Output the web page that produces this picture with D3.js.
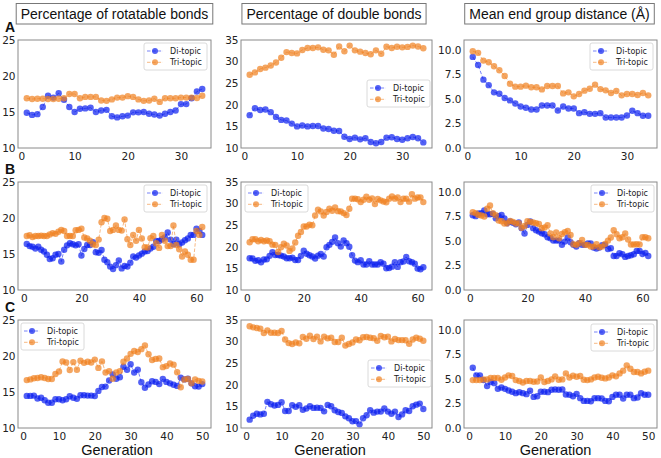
<!DOCTYPE html>
<html><head><meta charset="utf-8">
<script src="https://cdn.jsdelivr.net/npm/d3@7"></script>
<style>body{margin:0;background:#fff}</style>
</head><body><svg id="chart" width="661" height="458"></svg>
<script>
// ---- data ----
const columnTitles = ["Percentage of rotatable bonds", "Percentage of double bonds", "Mean end group distance (Å)"];
const rowLabels = ["A", "B", "C"];
const seriesNames = ["Di-topic", "Tri-topic"];
const xTicksA = [0, 10, 20, 30];
const xTicksB = [0, 20, 40, 60];
const xTicksC = [0, 10, 20, 30, 40, 50];
const yTicksRot = [10, 15, 20, 25];
const yTicksDbl = [10, 15, 20, 25, 30, 35];
const yTicksDist = [0, 2.5, 5, 7.5, 10];

const rotA_di = [14.9,14.6,14.7,15.7,17.25,17.0,17.6,16.7,15.7,15.0,15.45,15.5,15.6,15.0,15.2,15.3,14.4,14.25,14.4,14.5,14.95,14.95,15.0,14.75,14.65,14.5,14.75,15.0,15.2,16.1,16.1,16.9,17.85,18.2];
const rotA_tri = [16.9,16.8,16.85,16.85,16.8,16.8,16.85,16.9,17.5,17.5,16.9,17.1,17.1,17.1,16.6,16.55,16.75,17.0,17.0,17.2,17.1,16.75,16.55,16.6,16.85,16.4,16.9,16.9,16.9,17.0,17.0,17.0,16.95,17.25];
const dblA_di = [17.6,19.2,18.8,18.9,18.3,17.2,16.5,16.35,15.65,15.0,15.2,15.0,15.1,15.1,14.5,14.4,14.0,13.95,12.6,12.1,12.4,12.0,12.25,11.4,11.1,11.4,12.4,12.5,12.1,11.9,12.25,12.55,12.25,11.3];
const dblA_tri = [26.95,27.5,28.3,28.6,29.1,29.8,30.9,32.2,32.0,31.9,32.7,33.15,33.15,33.3,32.75,32.6,31.6,33.5,32.4,33.7,32.6,32.3,32.0,31.7,32.6,31.8,33.45,33.15,33.45,33.3,33.4,33.7,33.5,33.1];
const distA_di = [9.28,8.46,6.96,6.4,5.67,5.53,5.09,4.85,4.54,4.23,4.1,3.92,3.92,4.33,4.33,4.33,3.82,4.23,4.03,4.03,3.55,3.65,3.48,3.48,3.55,3.1,3.1,3.1,3.1,3.31,3.79,3.55,3.28,3.28];
const distA_tri = [9.86,9.69,8.9,8.74,8.33,7.92,7.34,6.55,6.25,6.25,6.35,6.18,6.18,5.97,6.31,6.31,6.31,5.56,5.67,5.26,5.5,5.84,6.04,6.45,6.0,5.87,5.6,5.8,5.36,5.5,5.5,5.4,5.6,5.36];

const rotB_di = [16.4,16.1,16.0,15.75,16.0,15.6,15.35,14.9,14.3,14.4,14.9,15.0,13.95,15.6,16.2,16.5,16.35,16.2,16.35,14.8,15.7,16.25,16.25,16.65,15.25,15.15,15.55,14.2,13.85,13.25,12.9,13.45,14.1,13.0,13.35,13.25,13.8,14.65,14.5,14.8,15.05,15.35,15.4,15.75,16.0,16.8,16.8,17.05,17.3,18.0,17.0,16.35,17.0,16.35,16.6,16.9,17.15,17.65,17.65,18.5,18.2,17.65];
const rotB_tri = [17.5,17.6,17.35,17.5,17.5,17.55,17.5,17.5,17.7,17.9,17.8,18.1,18.35,18.2,17.5,17.5,17.5,18.3,18.35,18.5,17.3,17.15,16.85,16.35,16.25,17.0,19.4,20.0,19.9,18.2,18.35,18.95,18.35,18.25,19.8,17.05,16.25,17.65,16.85,18.35,17.15,15.95,15.9,17.2,17.5,16.5,15.85,17.65,16.85,16.1,16.1,18.95,16.25,15.65,14.65,15.35,14.9,14.2,14.2,18.2,17.65,18.75];
const dblB_di = [17.35,17.3,16.75,16.9,16.4,17.05,17.1,17.9,18.75,18.1,18.1,17.95,17.75,17.35,17.35,17.5,16.95,16.95,17.9,19.1,18.4,18.05,17.75,17.3,17.95,18.35,17.75,19.9,20.45,21.15,22.15,20.85,20.05,21.45,20.85,20.0,18.05,16.8,16.45,16.9,15.9,15.9,16.65,15.9,15.9,15.9,16.45,16.1,15.05,15.1,15.4,16.45,15.35,16.45,16.6,17.65,16.65,16.45,16.1,14.95,14.8,15.25];
const dblB_tri = [21.05,21.75,21.75,21.3,21.6,21.3,21.45,21.3,20.5,20.45,18.8,19.9,20.7,20.3,19.05,19.6,21.0,22.55,23.45,24.7,24.7,25.1,25.0,27.25,28.6,28.2,27.25,28.05,28.8,28.35,29.1,28.25,28.2,27.8,27.35,28.8,31.15,31.15,31.0,30.35,30.9,31.6,30.9,31.2,29.9,31.05,30.75,30.5,30.3,31.15,31.65,31.15,31.4,30.35,31.15,31.15,30.45,32.15,31.15,31.4,31.45,30.35];
const distB_di = [7.62,7.52,7.79,7.82,8.1,7.72,7.72,7.75,7.31,7.52,7.65,7.28,6.8,6.97,6.84,6.7,6.87,6.3,5.75,6.63,6.97,6.3,6.09,5.95,5.78,5.68,5.37,5.27,5.03,5.03,5.03,4.6,4.93,5.34,4.86,4.6,4.42,4.76,4.6,4.6,4.73,4.73,4.32,4.22,4.32,4.56,4.6,4.18,4.25,3.47,3.47,3.74,3.64,3.37,3.47,3.54,3.64,3.98,3.98,3.67,3.78,3.47];
const distB_tri = [7.93,7.82,7.65,7.59,7.48,8.27,8.6,7.82,7.62,7.07,7.0,6.77,6.8,7.04,6.94,6.77,6.8,6.33,6.53,7.0,6.94,6.87,6.8,6.73,6.3,6.36,6.6,5.75,5.37,5.85,5.27,5.71,5.88,6.02,5.61,4.66,4.6,4.76,5.1,4.6,4.6,4.42,4.42,4.66,4.35,4.42,4.69,5.03,5.34,6.09,5.68,5.27,5.37,5.75,5.14,4.63,4.63,4.66,4.63,5.37,5.37,5.27];

const rotC_di = [14.46,14.46,14.5,14.1,14.2,13.85,13.5,13.5,14.0,14.0,13.85,14.0,14.4,14.2,14.05,14.55,14.55,14.5,14.5,14.45,15.15,15.7,15.75,16.6,17.45,16.85,17.05,18.5,18.1,18.85,17.7,18.1,16.35,15.6,16.05,16.5,16.4,16.1,16.8,16.4,16.2,16.0,15.85,17.0,16.75,16.85,16.2,15.8,15.75,16.1];
const rotC_tri = [16.65,16.75,16.9,16.95,17.05,16.95,16.8,16.8,17.5,17.85,19.25,19.1,18.05,19.15,18.1,19.35,19.05,19.2,19.1,19.5,18.35,19.25,17.7,17.9,16.85,17.7,17.9,19.2,19.65,20.3,20.7,20.55,20.95,21.45,20.25,19.45,19.6,19.65,18.45,18.6,18.95,18.8,17.75,15.65,16.75,16.8,16.2,16.75,16.55,16.45];
const dblC_di = [11.93,12.85,13.3,13.15,13.3,16.05,15.5,15.2,15.35,15.95,13.95,13.95,15.25,14.9,15.25,14.2,14.5,15.05,14.65,14.7,14.65,13.85,15.35,15.05,14.1,13.7,13.5,12.7,12.25,11.55,11.6,10.85,12.25,12.95,14.1,13.55,13.8,13.8,14.5,13.8,13.3,13.8,12.55,13.15,14.1,13.95,15.05,15.4,15.65,14.4];
const dblC_tri = [33.55,33.3,33.15,33.0,32.0,32.6,32.05,32.05,32.0,32.45,30.5,29.65,29.45,29.8,29.6,31.05,30.65,31.35,30.6,31.15,30.05,31.15,30.75,30.9,29.9,29.9,30.9,29.1,29.45,29.8,30.5,30.3,31.0,31.05,30.9,30.8,30.2,31.3,31.0,31.15,30.05,30.6,30.35,30.35,30.3,29.5,30.5,30.9,30.65,30.2];
const distC_di = [6.14,5.36,5.36,4.88,4.27,4.68,4.57,3.99,4.13,3.99,3.82,3.69,3.55,3.65,3.55,3.45,3.79,3.17,3.24,3.69,3.69,3.65,3.89,3.92,3.89,3.92,3.41,3.38,3.24,3.48,3.04,2.76,2.76,2.73,3.04,3.04,3.0,2.76,2.73,3.17,3.38,3.38,3.0,3.38,3.38,3.04,3.1,3.55,3.38,3.38];
const distC_tri = [4.88,4.88,4.88,4.95,4.95,5.09,5.09,5.09,4.91,5.15,5.36,5.29,4.88,4.78,4.64,4.78,4.78,4.71,4.74,5.15,4.68,4.78,4.95,5.26,4.91,4.95,5.56,5.15,5.32,5.22,5.29,4.91,4.88,4.95,5.15,5.22,5.12,5.05,5.15,5.36,5.26,5.56,5.84,6.38,6.04,5.7,5.7,5.56,5.73,5.84];

// ---- layout ----
const svg = d3.select("#chart");
const colX = [[18, 211], [241, 432], [464, 657]];
const rowY = [[40, 148], [182, 290], [320, 428]];
const yDomains = [[10, 25], [10, 35], [0, 11]];
const yTicks = [yTicksRot, yTicksDbl, yTicksDist];
const xTicks = [xTicksA, xTicksB, xTicksC];
const panels = [
  [[rotA_di, rotA_tri], [dblA_di, dblA_tri], [distA_di, distA_tri]],
  [[rotB_di, rotB_tri], [dblB_di, dblB_tri], [distB_di, distB_tri]],
  [[rotC_di, rotC_tri], [dblC_di, dblC_tri], [distC_di, distC_tri]]
];
const legendPos = [
  [[144, 43], [367, 80], [590, 43]],
  [[144, 185], [245, 185], [591, 185]],
  [[21, 323], [368, 360], [591, 324]]
];
const titleCenters = [114.5, 334, 559.5];
const genCenters = [117, 330, 555.5];
const colors = ["#0a1ef0", "#f08020"];
const tickFont = "DejaVu Sans";
const textFont = "Liberation Sans, Arial, sans-serif";

// Column titles with boxes
columnTitles.forEach((t, c) => {
  const g = svg.append("g");
  const txt = g.append("text").attr("x", titleCenters[c]).attr("y", 19)
    .attr("text-anchor", "middle").attr("font-family", textFont).attr("font-size", 14)
    .attr("fill", "#111").text(t);
  const bb = txt.node().getBBox();
  g.insert("rect", "text").attr("x", bb.x - 4.5).attr("y", 3.5).attr("width", bb.width + 9)
    .attr("height", 20.5).attr("fill", "#fff").attr("stroke", "#777").attr("stroke-width", 1);
});

// Row labels
rowLabels.forEach((l, r) => {
  svg.append("text").attr("x", 5).attr("y", [32, 174, 312][r])
    .attr("font-family", textFont).attr("font-weight", "bold").attr("font-size", 14)
    .attr("fill", "#111").text(l);
});

panels.forEach((row, r) => {
  row.forEach((series, c) => {
    const n = series[0].length;
    const margin = (n - 1) * 0.05;
    const x = d3.scaleLinear().domain([1 - margin, n + margin]).range(colX[c]);
    const y = d3.scaleLinear().domain(yDomains[c]).range([rowY[r][1], rowY[r][0]]);
    const g = svg.append("g");

    // axes
    const xa = g.append("g").attr("transform", `translate(0,${rowY[r][1]})`)
      .call(d3.axisBottom(x).tickValues(xTicks[r]).tickSize(0).tickPadding(4).tickFormat(d3.format("d")));
    const ya = g.append("g").attr("transform", `translate(${colX[c][0]},0)`)
      .call(d3.axisLeft(y).tickValues(yTicks[c]).tickSize(0).tickPadding(2.5)
        .tickFormat(c === 2 ? d3.format(".1f") : d3.format("d")));
    [xa, ya].forEach(a => {
      a.select(".domain").remove();
      a.selectAll("text").attr("font-family", tickFont).attr("font-size", 10.5).attr("fill", "#222");
    });
    xa.selectAll("text").attr("dy", "0.75em");

    // series
    series.forEach((vals, s) => {
      const pts = vals.map((v, i) => [i + 1, v]);
      g.append("path").datum(pts)
        .attr("d", d3.line().x(d => x(d[0])).y(d => y(d[1])))
        .attr("fill", "none").attr("stroke", colors[s]).attr("stroke-opacity", 0.55)
        .attr("stroke-width", 1).attr("stroke-dasharray", "3.5,1.8");
      g.append("g").selectAll("circle").data(pts).join("circle")
        .attr("cx", d => x(d[0])).attr("cy", d => y(d[1])).attr("r", 3.2)
        .attr("fill", colors[s]).attr("fill-opacity", 0.7);
    });

    // frame
    g.append("rect").attr("x", colX[c][0]).attr("y", rowY[r][0])
      .attr("width", colX[c][1] - colX[c][0]).attr("height", rowY[r][1] - rowY[r][0])
      .attr("fill", "none").attr("stroke", "#8a8a8a").attr("stroke-width", 1);

    // legend
    const [lx, ly] = legendPos[r][c];
    const lg = g.append("g").attr("transform", `translate(${lx},${ly})`);
    lg.append("rect").attr("width", 63).attr("height", 27).attr("rx", 2)
      .attr("fill", "#fff").attr("fill-opacity", 0.85).attr("stroke", "#d0d0d0").attr("stroke-width", 0.8);
    seriesNames.forEach((nm, s) => {
      const yy = 8 + s * 11.3;
      lg.append("line").attr("x1", 3).attr("x2", 19).attr("y1", yy).attr("y2", yy)
        .attr("stroke", colors[s]).attr("stroke-opacity", 0.55).attr("stroke-dasharray", "3.5,1.8");
      lg.append("circle").attr("cx", 11).attr("cy", yy).attr("r", 3)
        .attr("fill", colors[s]).attr("fill-opacity", 0.7);
      lg.append("text").attr("x", 26).attr("y", yy).attr("dy", "0.35em")
        .attr("font-family", tickFont).attr("font-size", 8).attr("fill", "#222").text(nm);
    });

    // x label
    if (r === 2) {
      svg.append("text").attr("x", genCenters[c]).attr("y", 455).attr("text-anchor", "middle")
        .attr("font-family", textFont).attr("font-size", 14.5).attr("fill", "#111").text("Generation");
    }
  });
});
</script>
</body></html>
